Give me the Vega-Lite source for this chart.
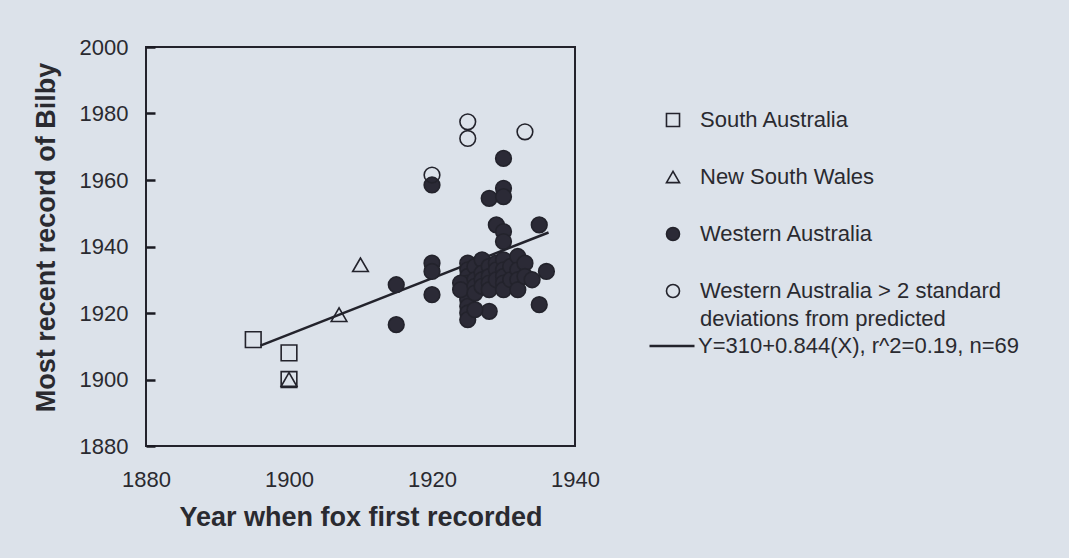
{
  "$schema": "https://vega.github.io/schema/vega-lite/v6.json",
  "autosize": {"type": "none"},
  "padding": {"left": 146, "top": 47, "right": 494, "bottom": 112},
  "width": 429,
  "height": 399,
  "background": "#dce2ea",
  "config": {
    "font": "Liberation Sans",
    "view": {"stroke": "#23232c", "strokeWidth": 2},
    "style": {"guide-label": {"lineHeight": 28}}
  },
  "datasets": {
    "pts": [
      {"x": 1895, "y": 1912, "group": "South Australia"},
      {"x": 1900, "y": 1908, "group": "South Australia"},
      {"x": 1900, "y": 1900, "group": "South Australia"},
      {"x": 1900, "y": 1900, "group": "New South Wales"},
      {"x": 1907, "y": 1919.5, "group": "New South Wales"},
      {"x": 1910, "y": 1934.5, "group": "New South Wales"},
      {"x": 1915, "y": 1928.5, "group": "Western Australia"},
      {"x": 1915, "y": 1916.5, "group": "Western Australia"},
      {"x": 1920, "y": 1958.5, "group": "Western Australia"},
      {"x": 1920, "y": 1935, "group": "Western Australia"},
      {"x": 1920, "y": 1932.5, "group": "Western Australia"},
      {"x": 1920, "y": 1925.5, "group": "Western Australia"},
      {"x": 1928, "y": 1954.5, "group": "Western Australia"},
      {"x": 1930, "y": 1966.5, "group": "Western Australia"},
      {"x": 1930, "y": 1957.5, "group": "Western Australia"},
      {"x": 1930, "y": 1955, "group": "Western Australia"},
      {"x": 1929, "y": 1946.5, "group": "Western Australia"},
      {"x": 1930, "y": 1944.5, "group": "Western Australia"},
      {"x": 1930, "y": 1941.5, "group": "Western Australia"},
      {"x": 1935, "y": 1946.5, "group": "Western Australia"},
      {"x": 1935, "y": 1922.5, "group": "Western Australia"},
      {"x": 1936, "y": 1932.5, "group": "Western Australia"},
      {"x": 1928, "y": 1920.5, "group": "Western Australia"},
      {"x": 1925, "y": 1935, "group": "Western Australia"},
      {"x": 1925, "y": 1933, "group": "Western Australia"},
      {"x": 1925, "y": 1931, "group": "Western Australia"},
      {"x": 1925, "y": 1929, "group": "Western Australia"},
      {"x": 1925, "y": 1927, "group": "Western Australia"},
      {"x": 1925, "y": 1925, "group": "Western Australia"},
      {"x": 1925, "y": 1924, "group": "Western Australia"},
      {"x": 1925, "y": 1922, "group": "Western Australia"},
      {"x": 1925, "y": 1920, "group": "Western Australia"},
      {"x": 1925, "y": 1918, "group": "Western Australia"},
      {"x": 1924, "y": 1929, "group": "Western Australia"},
      {"x": 1924, "y": 1927, "group": "Western Australia"},
      {"x": 1926, "y": 1934, "group": "Western Australia"},
      {"x": 1926, "y": 1930, "group": "Western Australia"},
      {"x": 1926, "y": 1928, "group": "Western Australia"},
      {"x": 1926, "y": 1926, "group": "Western Australia"},
      {"x": 1926, "y": 1921, "group": "Western Australia"},
      {"x": 1927, "y": 1936, "group": "Western Australia"},
      {"x": 1927, "y": 1932, "group": "Western Australia"},
      {"x": 1927, "y": 1930, "group": "Western Australia"},
      {"x": 1927, "y": 1928, "group": "Western Australia"},
      {"x": 1928, "y": 1934, "group": "Western Australia"},
      {"x": 1928, "y": 1931, "group": "Western Australia"},
      {"x": 1928, "y": 1929, "group": "Western Australia"},
      {"x": 1928, "y": 1927, "group": "Western Australia"},
      {"x": 1929, "y": 1935, "group": "Western Australia"},
      {"x": 1929, "y": 1933, "group": "Western Australia"},
      {"x": 1929, "y": 1930, "group": "Western Australia"},
      {"x": 1930, "y": 1936, "group": "Western Australia"},
      {"x": 1930, "y": 1933, "group": "Western Australia"},
      {"x": 1930, "y": 1931, "group": "Western Australia"},
      {"x": 1930, "y": 1929, "group": "Western Australia"},
      {"x": 1930, "y": 1927, "group": "Western Australia"},
      {"x": 1931, "y": 1934, "group": "Western Australia"},
      {"x": 1931, "y": 1930, "group": "Western Australia"},
      {"x": 1932, "y": 1937, "group": "Western Australia"},
      {"x": 1932, "y": 1933, "group": "Western Australia"},
      {"x": 1932, "y": 1930, "group": "Western Australia"},
      {"x": 1932, "y": 1927, "group": "Western Australia"},
      {"x": 1933, "y": 1935, "group": "Western Australia"},
      {"x": 1933, "y": 1931, "group": "Western Australia"},
      {"x": 1934, "y": 1930, "group": "Western Australia"},
      {"x": 1920, "y": 1961.5, "group": "Western Australia > 2 standard deviations from predicted"},
      {"x": 1925, "y": 1977.5, "group": "Western Australia > 2 standard deviations from predicted"},
      {"x": 1925, "y": 1972.5, "group": "Western Australia > 2 standard deviations from predicted"},
      {"x": 1933, "y": 1974.5, "group": "Western Australia > 2 standard deviations from predicted"}
    ],
    "fit": [
      {"x": 1896, "y": 1910.2, "fit": "Y=310+0.844(X), r^2=0.19, n=69"},
      {"x": 1936.3, "y": 1944.2, "fit": "Y=310+0.844(X), r^2=0.19, n=69"}
    ]
  },
  "encoding": {
    "x": {
      "field": "x", "type": "quantitative",
      "scale": {"domain": [1880, 1940], "nice": false, "zero": false},
      "axis": {
        "title": "Year when fox first recorded",
        "values": [1880, 1900, 1920, 1940],
        "format": "d",
        "grid": false, "domain": false, "ticks": false,
        "labelFontSize": 22, "labelColor": "#2a2a30", "labelPadding": 23,
        "labelFlush": false,
        "titleFontSize": 27, "titleFontWeight": "bold", "titleColor": "#2a2a30",
        "titleBaseline": "middle", "titleY": 71
      }
    },
    "y": {
      "field": "y", "type": "quantitative",
      "scale": {"domain": [1880, 2000], "nice": false, "zero": false},
      "axis": {
        "title": "Most recent record of Bilby",
        "values": [1880, 1900, 1920, 1940, 1960, 1980, 2000],
        "format": "d",
        "grid": false, "domain": false,
        "ticks": true, "tickSize": -9, "tickWidth": 2.5, "tickColor": "#1a1a22", "tickOpacity": 1,
        "labelFontSize": 22, "labelColor": "#2a2a30", "labelPadding": 27,
        "labelFlush": false,
        "titleFontSize": 27, "titleFontWeight": "bold", "titleColor": "#2a2a30",
        "titleBaseline": "middle", "titleX": -100, "titleY": 190
      }
    }
  },
  "layer": [
    {
      "data": {"name": "fit"},
      "mark": {"type": "line", "strokeWidth": 2.5},
      "encoding": {
        "color": {
          "field": "fit", "type": "nominal",
          "scale": {"range": ["#23232c"]},
          "legend": {
            "title": null, "orient": "none", "legendX": 502, "legendY": 275,
            "symbolType": "stroke", "symbolSize": 2025, "symbolStrokeWidth": 2.5,
            "labelFontSize": 22, "labelColor": "#2a2a30", "labelOffset": 2,
            "labelLimit": 500, "padding": 0
          }
        }
      }
    },
    {
      "data": {"name": "pts"},
      "mark": {"type": "point", "size": 245, "strokeWidth": 1.6, "opacity": 1},
      "encoding": {
        "shape": {
          "field": "group", "type": "nominal",
          "scale": {
            "domain": ["South Australia", "New South Wales", "Western Australia", "Western Australia > 2 standard deviations from predicted"],
            "range": ["square", "triangle-up", "circle", "circle"]
          },
          "legend": {
            "title": null, "orient": "none", "legendX": 516, "legendY": 62,
            "padding": 0, "symbolSize": 170, "symbolStrokeWidth": 1.6,
            "labelFontSize": 22, "labelColor": "#2a2a30", "labelOffset": 16,
            "labelLimit": 500, "rowPadding": 35,
            "labelExpr": "datum.label == 'Western Australia > 2 standard deviations from predicted' ? ['Western Australia > 2 standard', 'deviations from predicted'] : datum.label"
          }
        },
        "fill": {
          "field": "group", "type": "nominal",
          "scale": {
            "domain": ["South Australia", "New South Wales", "Western Australia", "Western Australia > 2 standard deviations from predicted"],
            "range": ["transparent", "transparent", "#2b2a36", "transparent"]
          },
          "legend": {
            "title": null, "orient": "none", "legendX": 516, "legendY": 62,
            "padding": 0, "symbolSize": 170, "symbolStrokeWidth": 1.6,
            "labelFontSize": 22, "labelColor": "#2a2a30", "labelOffset": 16,
            "labelLimit": 500, "rowPadding": 35,
            "labelExpr": "datum.label == 'Western Australia > 2 standard deviations from predicted' ? ['Western Australia > 2 standard', 'deviations from predicted'] : datum.label"
          }
        },
        "stroke": {
          "field": "group", "type": "nominal",
          "scale": {
            "domain": ["South Australia", "New South Wales", "Western Australia", "Western Australia > 2 standard deviations from predicted"],
            "range": ["#23232c", "#23232c", "#23232c", "#23232c"]
          },
          "legend": {
            "title": null, "orient": "none", "legendX": 516, "legendY": 62,
            "padding": 0, "symbolSize": 170, "symbolStrokeWidth": 1.6,
            "labelFontSize": 22, "labelColor": "#2a2a30", "labelOffset": 16,
            "labelLimit": 500, "rowPadding": 35,
            "labelExpr": "datum.label == 'Western Australia > 2 standard deviations from predicted' ? ['Western Australia > 2 standard', 'deviations from predicted'] : datum.label"
          }
        }
      }
    }
  ]
}
